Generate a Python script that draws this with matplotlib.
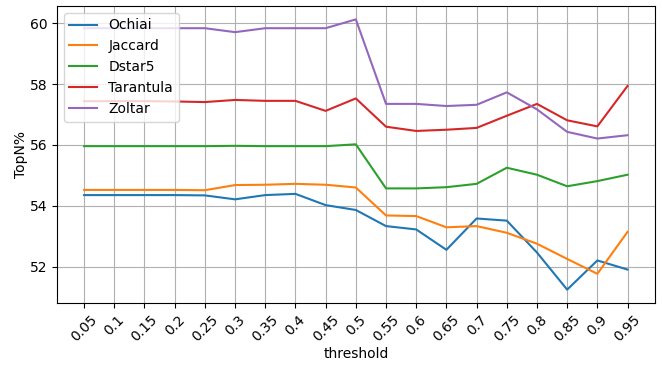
import numpy as np
import matplotlib
matplotlib.use('Agg')
import matplotlib.pyplot as plt

# thresholds and TopN% per formula
thresholds = ['0.05', '0.1', '0.15', '0.2', '0.25', '0.3', '0.35', '0.4', '0.45', '0.5',
              '0.55', '0.6', '0.65', '0.7', '0.75', '0.8', '0.85', '0.9', '0.95']

ochiai = [54.35, 54.35, 54.35, 54.35, 54.34, 54.21, 54.35, 54.39, 54.02, 53.86,
          53.33, 53.22, 52.55, 53.58, 53.51, 52.46, 51.24, 52.20, 51.90]
jaccard = [54.52, 54.52, 54.52, 54.52, 54.51, 54.68, 54.69, 54.72, 54.69, 54.60,
           53.68, 53.66, 53.29, 53.33, 53.11, 52.75, 52.25, 51.76, 53.14]
dstar5 = [55.96, 55.96, 55.96, 55.96, 55.96, 55.97, 55.96, 55.96, 55.96, 56.02,
          54.57, 54.57, 54.61, 54.72, 55.25, 55.02, 54.64, 54.81, 55.02]
tarantula = [57.44, 57.44, 57.44, 57.43, 57.41, 57.48, 57.45, 57.45, 57.12, 57.53,
             56.60, 56.46, 56.50, 56.56, 56.96, 57.35, 56.81, 56.61, 57.94]
zoltar = [59.84, 59.84, 59.84, 59.84, 59.84, 59.71, 59.84, 59.84, 59.84, 60.13,
          57.35, 57.35, 57.28, 57.32, 57.73, 57.17, 56.43, 56.21, 56.32]

series = [('Ochiai', ochiai), ('Jaccard', jaccard), ('Dstar5', dstar5),
          ('Tarantula', tarantula), ('Zoltar', zoltar)]

fig, ax = plt.subplots(figsize=(6.62, 3.67), dpi=100)
fig.subplots_adjust(left=0.086, right=0.989, top=0.984, bottom=0.174)

x = np.arange(len(thresholds))
for name, vals in series:
    ax.plot(x, vals, label=name)

ax.set_xticks(x)
ax.set_xticklabels(thresholds, rotation=45)
ax.set_xlabel('threshold', labelpad=2)
ax.set_ylabel('TopN%', labelpad=1)
ax.grid(True)
ax.legend(loc='upper left')

plt.savefig('out.png')
